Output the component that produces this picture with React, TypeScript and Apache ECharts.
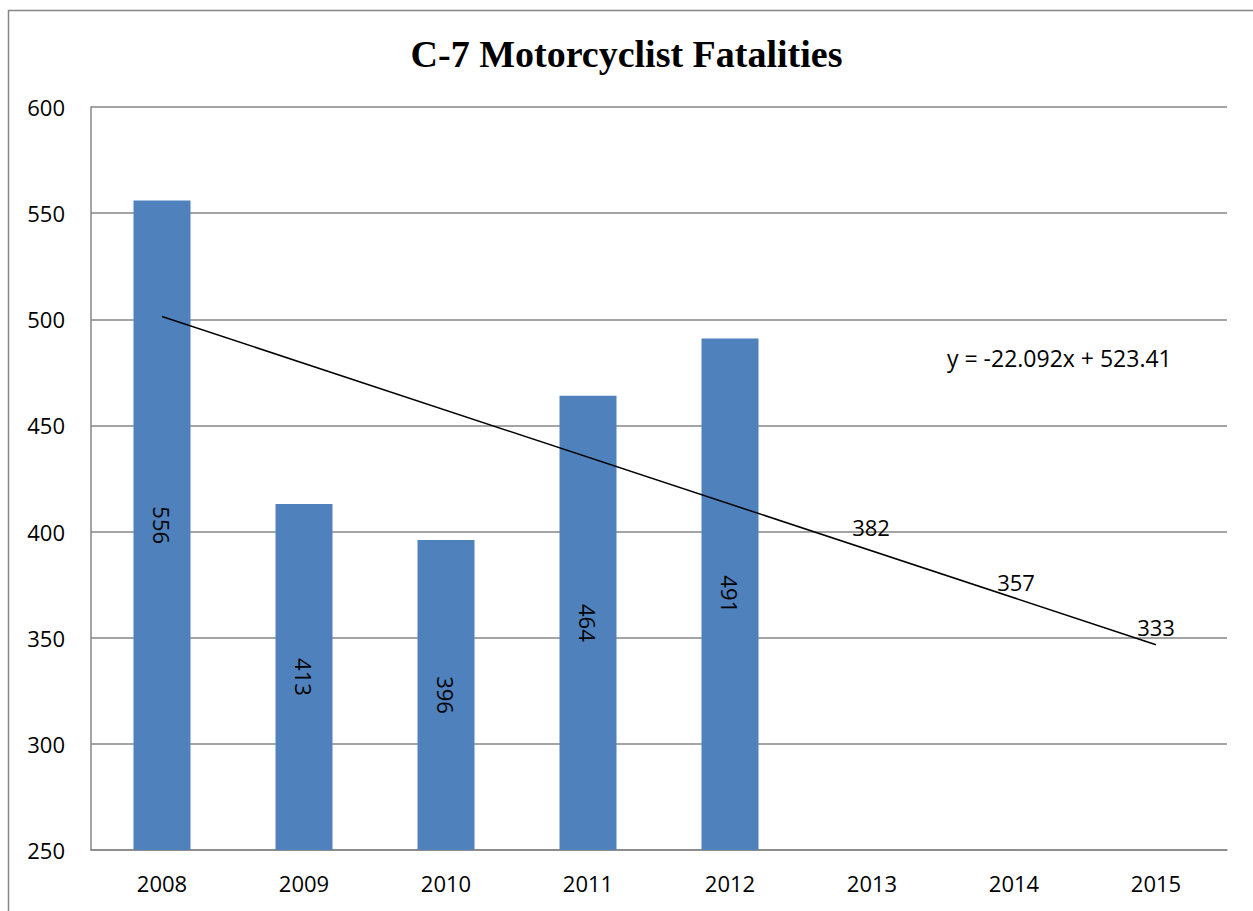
import React, { useEffect, useRef } from "react";
import * as echarts from "echarts";

const categories = ["2008", "2009", "2010", "2011", "2012", "2013", "2014", "2015"];
const fatalities = [556, 413, 396, 464, 491, 382, 357, 333];
const measuredCount = 5;
const trendValues = [501.3, null, null, null, null, null, null, 346.7];
const trendEquation = "y = -22.092x + 523.41";
const yTicks = { min: 250, max: 600, interval: 50 };
const projectedLabelOffsets = [[-1, -32], [2, -30], [0, -36]];

const FONT = "'Open Sans', 'Noto Sans', sans-serif";

export default function App() {
  const ref = useRef<HTMLDivElement>(null);
  useEffect(() => {
    document.body.style.margin = "0";
    document.body.style.overflow = "hidden";
    const chart = echarts.init(ref.current!, null, { renderer: "svg" });
    const barData = fatalities.map((v, i) => {
      if (i < measuredCount) {
        return {
          value: v,
          itemStyle: { color: "#4F81BD" },
          label: {
            show: true,
            position: "inside",
            rotate: -90,
            color: "#000",
            fontSize: 22,
            fontFamily: FONT,
          },
        };
      }
      const off = projectedLabelOffsets[i - measuredCount];
      return {
        value: v,
        itemStyle: { color: "rgba(0,0,0,0)" },
        label: {
          show: true,
          position: "top",
          distance: 0,
          offset: off,
          color: "#000",
          fontSize: 22,
          fontFamily: FONT,
        },
      };
    });
    chart.setOption({
      animation: false,
      backgroundColor: "#fff",
      title: {
        text: "C-7 Motorcyclist Fatalities",
        left: "center",
        top: 30,
        textStyle: {
          fontFamily: "'Liberation Serif', 'Times New Roman', serif",
          fontWeight: "bold",
          fontSize: 38,
          color: "#000",
        },
      },
      grid: { left: 91, top: 107, right: 26, bottom: 61, containLabel: false },
      xAxis: {
        type: "category",
        data: categories,
        boundaryGap: true,
        axisLine: { lineStyle: { color: "#868686", width: 1.5 } },
        axisTick: { show: false },
        axisLabel: { color: "#000", fontSize: 22, fontFamily: FONT, margin: 22 },
      },
      yAxis: {
        type: "value",
        min: yTicks.min,
        max: yTicks.max,
        interval: yTicks.interval,
        axisLine: { show: true, lineStyle: { color: "#868686", width: 1.5 } },
        axisTick: { show: false },
        splitLine: { lineStyle: { color: "#868686", width: 1.5 } },
        axisLabel: { color: "#000", fontSize: 22, fontFamily: FONT, margin: 26 },
      },
      series: [
        {
          type: "bar",
          data: barData,
          barWidth: 57,
        },
        {
          type: "line",
          data: trendValues,
          connectNulls: true,
          showSymbol: false,
          symbol: "none",
          lineStyle: { color: "#000", width: 1.5 },
          z: 5,
        },
      ],
      graphic: [
        {
          type: "rect",
          shape: { x: 8.5, y: 10.5, width: 1400, height: 1000 },
          style: { fill: "none", stroke: "#868686", lineWidth: 1.5 },
          z: 0,
        },
        {
          type: "text",
          left: 947,
          top: 346,
          style: { text: trendEquation, fill: "#000", fontSize: 23, fontFamily: FONT },
        },
      ],
    });
    return () => chart.dispose();
  }, []);
  return <div ref={ref} style={{ width: 1253, height: 911 }} />;
}
